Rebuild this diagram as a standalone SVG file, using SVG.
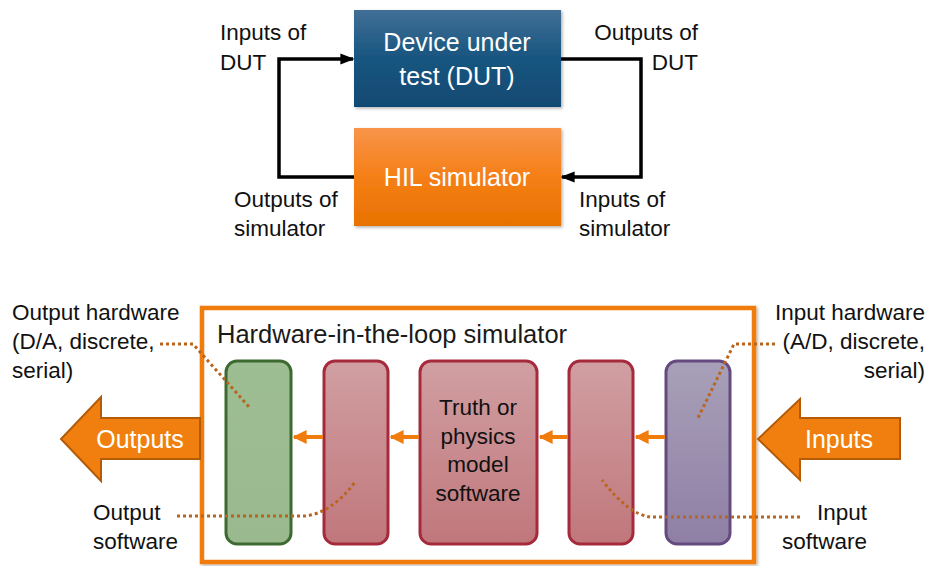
<svg xmlns="http://www.w3.org/2000/svg" width="928" height="566" viewBox="0 0 928 566">
  <defs>
    <linearGradient id="gDut" x1="0" y1="0" x2="0" y2="1">
      <stop offset="0" stop-color="#416f96"/>
      <stop offset="0.5" stop-color="#17557f"/>
      <stop offset="1" stop-color="#114a72"/>
    </linearGradient>
    <linearGradient id="gHil" x1="0" y1="0" x2="0" y2="1">
      <stop offset="0" stop-color="#f8944a"/>
      <stop offset="0.5" stop-color="#f57f16"/>
      <stop offset="1" stop-color="#e87200"/>
    </linearGradient>
    <linearGradient id="gRed" x1="0" y1="0" x2="0" y2="1">
      <stop offset="0" stop-color="#d19fa2"/>
      <stop offset="1" stop-color="#c0777c"/>
    </linearGradient>
    <linearGradient id="gGreen" x1="0" y1="0" x2="0" y2="1">
      <stop offset="0" stop-color="#9dbd92"/>
      <stop offset="1" stop-color="#9bb98f"/>
    </linearGradient>
    <linearGradient id="gPurple" x1="0" y1="0" x2="0" y2="1">
      <stop offset="0" stop-color="#a8a0b8"/>
      <stop offset="1" stop-color="#8f7fa5"/>
    </linearGradient>
    <filter id="shadow" x="-10%" y="-10%" width="130%" height="130%">
      <feDropShadow dx="1.5" dy="1.5" stdDeviation="1.5" flood-color="#000" flood-opacity="0.3"/>
    </filter>
    <marker id="blackHead" viewBox="0 0 10 10" refX="9" refY="5" markerWidth="4" markerHeight="4" markerUnits="strokeWidth" orient="auto">
      <path d="M0,1 L10,5 L0,9 Z" fill="#000"/>
    </marker>
    <marker id="orangeHead" viewBox="0 0 10 10" refX="9" refY="5" markerWidth="3.5" markerHeight="3.5" markerUnits="strokeWidth" orient="auto">
      <path d="M0,0 L10,5 L0,10 Z" fill="#f07c0c"/>
    </marker>
  </defs>
  <style>
    text { font-family: "Liberation Sans", Arial, sans-serif; font-size: 22.5px; fill: #111; }
    .white { fill: #fff; }
    .box { font-size: 25px; }
    .title { font-size: 25.5px; fill: #1a1a1a; }
    .mid { text-anchor: middle; }
    .end { text-anchor: end; }
    .loop { fill: none; stroke: #000; stroke-width: 3.5; marker-end: url(#blackHead); }
    .flow { fill: none; stroke: #f07c0c; stroke-width: 4; marker-end: url(#orangeHead); }
    .dots { fill: none; stroke: #b9651e; stroke-width: 3; stroke-dasharray: 3 3; }
    .unit { stroke-width: 3; }
  </style>

  <rect width="928" height="566" fill="#fff"/>

  <!-- Top: DUT and HIL simulator loop -->
  <g id="dut">
    <rect x="354" y="10" width="207" height="97" fill="url(#gDut)" filter="url(#shadow)"/>
    <text class="white box mid" x="457" y="51">Device under</text>
    <text class="white box mid" x="457" y="85">test (DUT)</text>
  </g>
  <g id="hil">
    <rect x="354" y="128" width="207" height="98" fill="url(#gHil)" filter="url(#shadow)"/>
    <text class="white box mid" x="457" y="186">HIL simulator</text>
  </g>

  <g id="loop-connectors">
    <path class="loop" d="M354,177 H279 V59 H353"/>
    <path class="loop" d="M561,59 H641 V177 H562"/>
  </g>

  <g id="loop-labels">
    <text x="220" y="40">Inputs of</text>
    <text x="220" y="70">DUT</text>
    <text class="end" x="698" y="40">Outputs of</text>
    <text class="end" x="698" y="70">DUT</text>
    <text x="234" y="207">Outputs of</text>
    <text x="234" y="236">simulator</text>
    <text x="579" y="207">Inputs of</text>
    <text x="579" y="236">simulator</text>
  </g>

  <!-- Bottom: inside the HIL simulator -->
  <g id="hil-frame">
    <rect x="202" y="308" width="552" height="254" fill="#fff" stroke="#f07c0c" stroke-width="4.5" filter="url(#shadow)"/>
    <text class="title" x="217" y="343">Hardware-in-the-loop simulator</text>
  </g>

  <g id="output-hardware">
    <rect class="unit" x="226" y="361" width="65" height="183" rx="11" fill="url(#gGreen)" stroke="#3d6a30"/>
  </g>
  <g id="output-software">
    <rect class="unit" x="324" y="361" width="64" height="183" rx="11" fill="url(#gRed)" stroke="#a52b3c"/>
  </g>
  <g id="model">
    <rect class="unit" x="420" y="361" width="117" height="183" rx="11" fill="url(#gRed)" stroke="#a52b3c"/>
    <text class="mid" x="478" y="415">Truth or</text>
    <text class="mid" x="478" y="444">physics</text>
    <text class="mid" x="478" y="472">model</text>
    <text class="mid" x="478" y="501">software</text>
  </g>
  <g id="input-software">
    <rect class="unit" x="569" y="361" width="64" height="183" rx="11" fill="url(#gRed)" stroke="#a52b3c"/>
  </g>
  <g id="input-hardware">
    <rect class="unit" x="666" y="361" width="64" height="183" rx="11" fill="url(#gPurple)" stroke="#654a80"/>
  </g>

  <g id="signal-flow">
    <path class="flow" d="M665,437 H636"/>
    <path class="flow" d="M568,437 H540"/>
    <path class="flow" d="M419,437 H391"/>
    <path class="flow" d="M323,437 H294"/>
  </g>

  <g id="outputs-arrow">
    <path d="M200,418 H101 V397 L61,439 L101,481 V459 H200 Z" fill="#f07f0f" stroke="#b35b06" stroke-width="2"/>
    <text class="white box mid" x="140" y="448">Outputs</text>
  </g>
  <g id="inputs-arrow">
    <path d="M900,418 H800 V399 L758,439 L800,480 V459 H900 Z" fill="#f07f0f" stroke="#b35b06" stroke-width="2"/>
    <text class="white box mid" x="839" y="448">Inputs</text>
  </g>

  <g id="callouts">
    <path class="dots" d="M160,344 H193 L250,408"/>
    <path class="dots" d="M177,516 H305 Q332,513 355,482"/>
    <path class="dots" d="M775,344 H734 L697,420"/>
    <path class="dots" d="M800,517 H650 Q628,514 602,480"/>
  </g>

  <g id="callout-labels">
    <text x="12" y="320">Output hardware</text>
    <text x="12" y="349">(D/A, discrete,</text>
    <text x="12" y="378">serial)</text>
    <text class="end" x="925" y="320">Input hardware</text>
    <text class="end" x="925" y="349">(A/D, discrete,</text>
    <text class="end" x="925" y="378">serial)</text>
    <text x="93" y="520">Output</text>
    <text x="93" y="549">software</text>
    <text class="end" x="867" y="520">Input</text>
    <text class="end" x="867" y="549">software</text>
  </g>
</svg>
